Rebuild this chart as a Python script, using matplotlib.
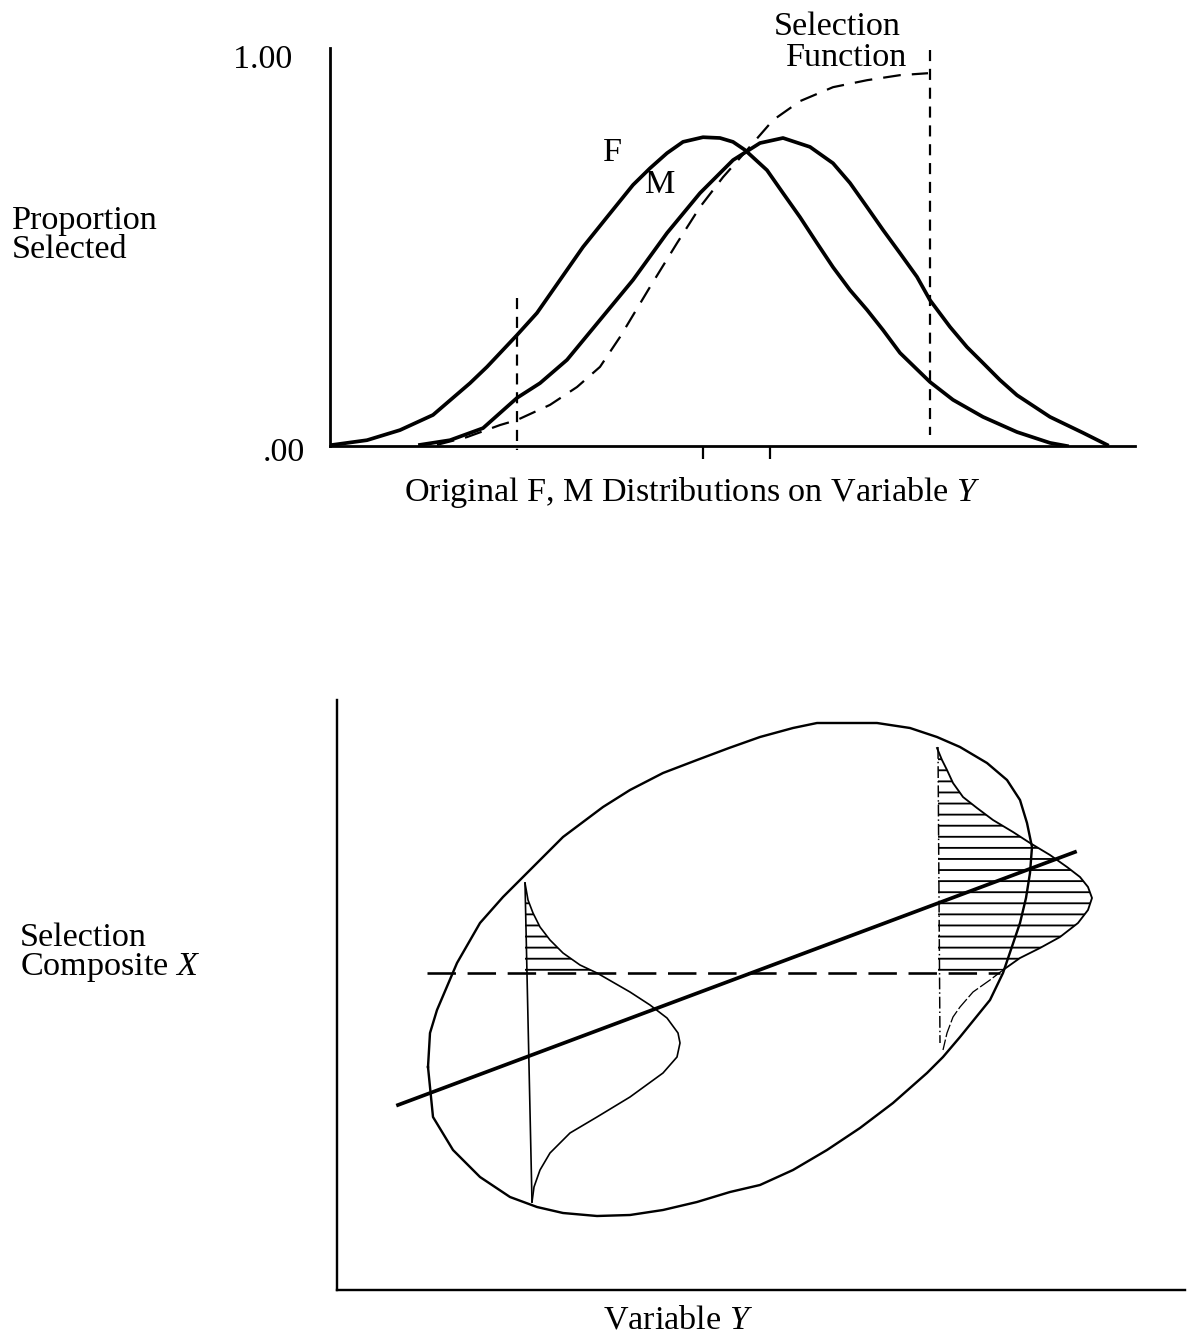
import numpy as np
import matplotlib
matplotlib.use('Agg')
import matplotlib.pyplot as plt

W, H, DPI = 1191, 1334, 133
plt.rcParams['font.family'] = ['Liberation Serif', 'DejaVu Serif']
plt.rcParams['mathtext.fontset'] = 'custom'
plt.rcParams['mathtext.rm'] = 'Liberation Serif'
plt.rcParams['mathtext.it'] = 'Liberation Serif:italic'
plt.rcParams['hatch.linewidth'] = 1.0
FS = 18.5

# ---- top panel: F, M distributions on Y and the selection function ----
f_y = [0.3, 3.7, 7.0, 10.3, 14.0, 15.7, 18.7, 20.7, 23.0, 25.3, 27.7, 30.3, 32.0,
       33.7, 35.3, 37.3, 39.0, 40.3, 41.5, 43.7, 45.3, 47.0, 48.7, 50.3, 52.0,
       53.7, 55.3, 57.0, 60.0, 62.3, 65.3, 68.7, 72.0, 73.7]
f_p = [0.003, 0.015, 0.041, 0.080, 0.162, 0.204, 0.286, 0.343, 0.428, 0.513, 0.590,
       0.673, 0.716, 0.755, 0.784, 0.796, 0.794, 0.784, 0.763, 0.711, 0.652, 0.590,
       0.523, 0.461, 0.402, 0.351, 0.299, 0.240, 0.165, 0.119, 0.075, 0.036, 0.008, 0.0]
m_y = [9.0, 12.0, 15.3, 18.7, 21.0, 23.7, 27.0, 30.3, 33.7, 37.0, 40.3, 43.0, 45.3,
       48.0, 50.3, 52.0, 53.7, 55.3, 57.0, 58.7, 60.0, 62.0, 63.7, 65.3, 67.0, 68.7,
       72.0, 75.3, 77.7]
m_p = [0.003, 0.015, 0.046, 0.124, 0.162, 0.222, 0.325, 0.428, 0.549, 0.652, 0.737,
       0.781, 0.794, 0.771, 0.729, 0.678, 0.616, 0.557, 0.497, 0.436, 0.376, 0.307,
       0.255, 0.214, 0.170, 0.131, 0.075, 0.034, 0.003]
sel_y = [10.7, 13.7, 17.0, 18.7, 22.0, 24.7, 27.0, 29.0, 32.0, 34.7, 37.0, 39.3,
         41.7, 44.3, 47.0, 50.3, 53.7, 57.0, 59.8]
sel_p = [0.003, 0.023, 0.054, 0.067, 0.106, 0.152, 0.204, 0.281, 0.410, 0.523, 0.616,
         0.693, 0.763, 0.840, 0.889, 0.925, 0.943, 0.956, 0.961]
means = [37.3, 44.0]
cut_lo, cut_hi = 18.7, 60.0

# ---- bottom panel: bivariate ellipse of Y and composite X ----
ell_Y = [9.1, 9.3, 10.0, 12.0, 14.3, 16.6, 19.3, 22.6, 26.6, 29.3, 32.6, 36.0, 39.2,
         42.3, 45.6, 48.0, 50.6, 54.0, 57.3, 60.0, 62.3, 65.0, 67.0, 68.3, 69.0, 69.5,
         69.3, 68.9, 68.3, 66.6, 65.3, 62.3, 60.6, 59.0, 55.6, 52.3, 49.0, 45.6, 42.3,
         39.3, 36.0, 32.6, 29.3, 26.0, 22.6, 20.0, 17.3, 14.3, 11.6, 9.6, 9.1]
ell_X = [22.3, 25.7, 28.0, 32.7, 36.7, 39.3, 42.0, 45.3, 48.3, 50.0, 51.7, 53.0, 54.2,
         55.3, 56.2, 56.7, 56.7, 56.7, 56.2, 55.3, 54.3, 52.7, 51.0, 49.0, 46.7, 44.3,
         41.7, 39.2, 36.7, 31.7, 29.0, 25.3, 23.3, 21.7, 18.7, 16.2, 14.0, 12.0, 10.5,
         9.8, 8.8, 8.0, 7.5, 7.4, 7.7, 8.3, 9.3, 11.3, 14.0, 17.3, 22.3]
reg_Y = [6.1, 73.8]
reg_X = [18.5, 43.8]
cut_X = 31.7
cut_span = [9.0, 66.3]

lo_line_Y = [18.8, 19.5]
lo_line_X = [40.7, 8.8]
lo_Y = [18.8, 19.1, 19.6, 20.3, 21.3, 22.6, 24.3, 26.0, 29.3, 31.3, 33.0, 34.1, 34.3,
        34.0, 32.6, 29.3, 26.0, 23.3, 21.3, 20.3, 19.7, 19.5]
lo_X = [40.7, 39.0, 37.7, 36.3, 35.0, 33.7, 32.5, 31.7, 29.8, 28.5, 27.2, 25.7, 24.7,
        23.3, 21.7, 19.3, 17.3, 15.7, 13.7, 12.0, 10.3, 8.8]

hi_line_Y = [60.1, 60.3]
hi_line_X = [54.3, 24.7]
hi_Y = [60.0, 60.5, 61.0, 61.6, 62.6, 64.0, 65.6, 67.6, 69.3, 71.3, 73.0, 74.3, 75.1,
        75.5, 75.1, 74.1, 72.3, 70.3, 68.3, 66.6, 65.3, 63.6, 62.3, 61.6, 61.0, 60.6]
hi_X = [54.2, 53.0, 52.0, 50.7, 49.3, 48.2, 47.0, 45.8, 44.7, 43.5, 42.3, 41.3, 40.3,
        39.2, 38.0, 36.7, 35.3, 34.2, 33.2, 32.0, 31.0, 29.8, 28.3, 27.3, 25.7, 24.0]

fig = plt.figure(figsize=(W / DPI, H / DPI), dpi=DPI)

# top axes
ax1 = fig.add_axes([330 / W, 1 - 446 / H, 805 / W, 398 / H])
ax1.set_xlim(0, 80.5)
ax1.set_ylim(0, 1.026)
for s in ['top', 'right']:
    ax1.spines[s].set_visible(False)
for s in ['left', 'bottom']:
    ax1.spines[s].set_linewidth(1.5)
ax1.set_yticks([])
ax1.set_xticks(means)
ax1.set_xticklabels([])
ax1.tick_params(axis='x', direction='out', length=7, width=1.2)

ax1.plot(f_y, f_p, color='k', lw=2.0, solid_joinstyle='round')
ax1.plot(m_y, m_p, color='k', lw=2.0, solid_joinstyle='round')
ax1.plot(sel_y, sel_p, color='k', lw=1.2, dashes=(8, 5))
ax1.plot([cut_lo, cut_lo], [0.381, -0.01], color='k', lw=1.2, dashes=(5, 3.5), clip_on=False)
ax1.plot([cut_hi, cut_hi], [1.02, 0.028], color='k', lw=1.2, dashes=(5, 3.5), clip_on=False)

ax1.text(28.2, 0.755, 'F', fontsize=FS, ha='center', va='center')
ax1.text(33.0, 0.673, 'M', fontsize=FS, ha='center', va='center')
ax1.text(50.7, 1.080, 'Selection', fontsize=FS, ha='center', va='center', clip_on=False)
ax1.text(51.7, 1.000, 'Function', fontsize=FS, ha='center', va='center', clip_on=False)
ytr = ax1.get_yaxis_transform()
ax1.text(-0.047, 0.995, '1.00', fontsize=FS, ha='right', va='center', transform=ytr)
ax1.text(-0.031, -0.018, '.00', fontsize=FS, ha='right', va='center', transform=ytr)
ax1.text(0.45, -0.116, 'Original F, M Distributions on Variable $Y$', fontsize=FS,
         ha='center', va='center', transform=ax1.transAxes)

fig.text(12 / W, 1 - 221 / H, 'Proportion', fontsize=FS, ha='left', va='center')
fig.text(12 / W, 1 - 250 / H, 'Selected', fontsize=FS, ha='left', va='center')

# bottom axes
ax2 = fig.add_axes([337 / W, 1 - 1290 / H, 848 / W, 590 / H])
ax2.set_xlim(0, 84.8)
ax2.set_ylim(0, 59.0)
for s in ['top', 'right']:
    ax2.spines[s].set_visible(False)
for s in ['left', 'bottom']:
    ax2.spines[s].set_linewidth(1.3)
ax2.set_xticks([])
ax2.set_yticks([])

ax2.plot(ell_Y, ell_X, color='k', lw=1.3, solid_joinstyle='round')
ax2.plot(reg_Y, reg_X, color='k', lw=2.0)
ax2.plot(cut_span, [cut_X, cut_X], color='k', lw=1.4, dashes=(11, 4.5))

lo_X_arr = np.array(lo_X)
ax2.fill_betweenx(lo_X, lo_line_Y[0], lo_Y, where=lo_X_arr >= cut_X, interpolate=True,
                  facecolor='none', edgecolor='k', hatch='--', linewidth=0)
ax2.plot(lo_line_Y, lo_line_X, color='k', lw=0.9)
ax2.plot(lo_Y, lo_X, color='k', lw=0.9, solid_joinstyle='round')

hi_X_arr = np.array(hi_X)
ax2.fill_betweenx(hi_X, hi_line_Y[0], hi_Y, where=hi_X_arr >= cut_X, interpolate=True,
                  facecolor='none', edgecolor='k', hatch='--', linewidth=0)
ax2.plot(hi_line_Y, hi_line_X, color='k', lw=0.8, linestyle=(0, (8, 2, 1, 2)))
up = hi_X_arr >= cut_X
ax2.plot(np.array(hi_Y)[up], hi_X_arr[up], color='k', lw=1.0, solid_joinstyle='round')
ax2.plot(np.array(hi_Y)[up.sum() - 1:], hi_X_arr[up.sum() - 1:], color='k', lw=0.7,
         linestyle=(0, (10, 2)))

ax2.text(0.402, -0.051, 'Variable $Y$', fontsize=FS, ha='center', va='center',
         transform=ax2.transAxes)
fig.text(20 / W, 1 - 938 / H, 'Selection', fontsize=FS, ha='left', va='center')
fig.text(20 / W, 1 - 968 / H, 'Composite $X$', fontsize=FS, ha='left', va='center')

fig.savefig('out.png', dpi=DPI, facecolor='white')
